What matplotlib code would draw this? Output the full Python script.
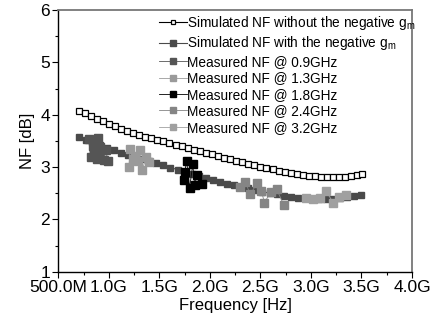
import matplotlib
matplotlib.use("Agg")
import matplotlib.pyplot as plt
from matplotlib.ticker import FixedLocator, MultipleLocator

plt.rcParams['font.family'] = ['Liberation Sans', 'DejaVu Sans']

# Simulated NF without negative gm (GHz, dB)
f_sim_wo = [0.70, 0.76, 0.82, 0.88, 0.94, 1.00, 1.06, 1.12, 1.18, 1.24, 1.30, 1.36,
            1.42, 1.48, 1.54, 1.60, 1.66, 1.72, 1.78, 1.84, 1.90, 1.96, 2.02, 2.08,
            2.14, 2.20, 2.26, 2.32, 2.38, 2.44, 2.50, 2.56, 2.62, 2.68, 2.74, 2.80,
            2.86, 2.92, 2.98, 3.04, 3.10, 3.16, 3.22, 3.28, 3.34, 3.40, 3.46, 3.51]
nf_sim_wo = [4.08, 4.03, 3.97, 3.92, 3.87, 3.82, 3.78, 3.73, 3.69, 3.65, 3.61, 3.58,
             3.55, 3.52, 3.49, 3.46, 3.43, 3.40, 3.37, 3.33, 3.30, 3.27, 3.24, 3.21,
             3.18, 3.15, 3.12, 3.09, 3.06, 3.03, 3.01, 2.98, 2.96, 2.93, 2.91, 2.89,
             2.87, 2.85, 2.83, 2.82, 2.81, 2.80, 2.80, 2.80, 2.81, 2.82, 2.84, 2.87]

# Simulated NF with negative gm
f_sim_w = [0.70, 0.77, 0.84, 0.91, 0.98, 1.05, 1.12, 1.19, 1.26, 1.33, 1.40, 1.47,
           1.54, 1.61, 1.68, 1.75, 1.82, 1.89, 1.96, 2.03, 2.10, 2.17, 2.24, 2.31,
           2.38, 2.45, 2.52, 2.59, 2.66, 2.73, 2.80, 2.87, 2.94, 3.01, 3.08, 3.15,
           3.22, 3.29, 3.36, 3.43, 3.50]
nf_sim_w = [3.57, 3.52, 3.47, 3.42, 3.37, 3.32, 3.27, 3.23, 3.19, 3.15, 3.11, 3.07,
            3.03, 2.99, 2.95, 2.91, 2.87, 2.83, 2.79, 2.75, 2.72, 2.68, 2.65, 2.62,
            2.59, 2.56, 2.53, 2.50, 2.48, 2.45, 2.43, 2.41, 2.40, 2.39, 2.38, 2.38,
            2.39, 2.40, 2.42, 2.44, 2.46]

# Measured
f09 = [0.80, 0.82, 0.84, 0.85, 0.86, 0.88, 0.89, 0.90, 0.91, 0.93, 0.95, 0.97, 0.99]
nf09 = [3.53, 3.19, 3.40, 3.30, 3.48, 3.16, 3.56, 3.18, 3.38, 3.32, 3.13, 3.33, 3.12]
f13 = [1.20, 1.21, 1.24, 1.26, 1.29, 1.31, 1.33, 1.37, 1.40]
nf13 = [3.00, 3.35, 3.16, 3.22, 3.12, 3.33, 2.94, 3.19, 3.10]
f18 = [1.74, 1.75, 1.77, 1.80, 1.83, 1.85, 1.87, 1.92]
nf18 = [2.76, 2.90, 3.11, 2.60, 3.05, 2.65, 2.84, 2.68]
f24 = [2.30, 2.35, 2.40, 2.47, 2.51, 2.54, 2.60, 2.66, 2.73]
nf24 = [2.62, 2.71, 2.48, 2.70, 2.55, 2.31, 2.53, 2.58, 2.28]
f32 = [2.95, 3.02, 3.09, 3.15, 3.22, 3.28, 3.35]
nf32 = [2.40, 2.38, 2.40, 2.54, 2.32, 2.43, 2.47]

xticks = [0.5, 1.0, 1.5, 2.0, 2.5, 3.0, 3.5, 4.0]
xtick_labels = ["500.0M", "1.0G", "1.5G", "2.0G", "2.5G", "3.0G", "3.5G", "4.0G"]

fig = plt.figure(figsize=(4.37, 3.28), dpi=100)
ax = fig.add_axes([0.1334, 0.1716, 0.8094, 0.7979])

ax.plot(f_sim_wo, nf_sim_wo, color='black', lw=0.8, marker='s', ms=4.2,
        mfc='white', mec='black', mew=0.9,
        label='Simulated NF without the negative g$_\\mathregular{m}$')
ax.plot(f_sim_w, nf_sim_w, color='#4a4a4a', lw=0.8, marker='s', ms=4.8,
        mfc='#4a4a4a', mec='#4a4a4a',
        label='Simulated NF with the negative g$_\\mathregular{m}$')
meas = [(f09, nf09, '#555555', 'Measured NF @ 0.9GHz'),
        (f13, nf13, '#9a9a9a', 'Measured NF @ 1.3GHz'),
        (f18, nf18, '#000000', 'Measured NF @ 1.8GHz'),
        (f24, nf24, '#858585', 'Measured NF @ 2.4GHz'),
        (f32, nf32, '#a0a0a0', 'Measured NF @ 3.2GHz')]
for f, nf, c, lab in meas:
    ax.plot(f, nf, color=c, lw=0.6, marker='s', ms=5.2, mfc=c, mec=c, label=lab)

ax.set_xlim(0.5, 4.0)
ax.set_ylim(1, 6)
ax.xaxis.set_major_locator(FixedLocator(xticks))
ax.set_xticklabels(xtick_labels)
ax.xaxis.set_minor_locator(MultipleLocator(0.25))
ax.yaxis.set_major_locator(MultipleLocator(1))
ax.yaxis.set_minor_locator(MultipleLocator(0.5))
ax.tick_params(which='major', direction='out', length=4, width=0.8, labelsize=12.5, pad=2)
ax.tick_params(which='minor', direction='out', length=2.5, width=0.8)
ax.tick_params(axis='x', top=False)
ax.tick_params(axis='y', right=False)

for s in ['left', 'bottom']:
    ax.spines[s].set_color('black')
    ax.spines[s].set_linewidth(1.0)
for s in ['top', 'right']:
    ax.spines[s].set_color('#777777')
    ax.spines[s].set_linewidth(1.3)

ax.set_xlabel('Frequency [Hz]', fontsize=12, labelpad=2)
ax.set_ylabel('NF [dB]', fontsize=12, labelpad=4)

ax.legend(loc='upper right', bbox_to_anchor=(1.01, 0.985), frameon=False,
          fontsize=9.8, borderaxespad=0, borderpad=0, handlelength=2.1,
          handletextpad=0.0, labelspacing=0.18, markerscale=0.8)

fig.savefig('out.png', dpi=100)
